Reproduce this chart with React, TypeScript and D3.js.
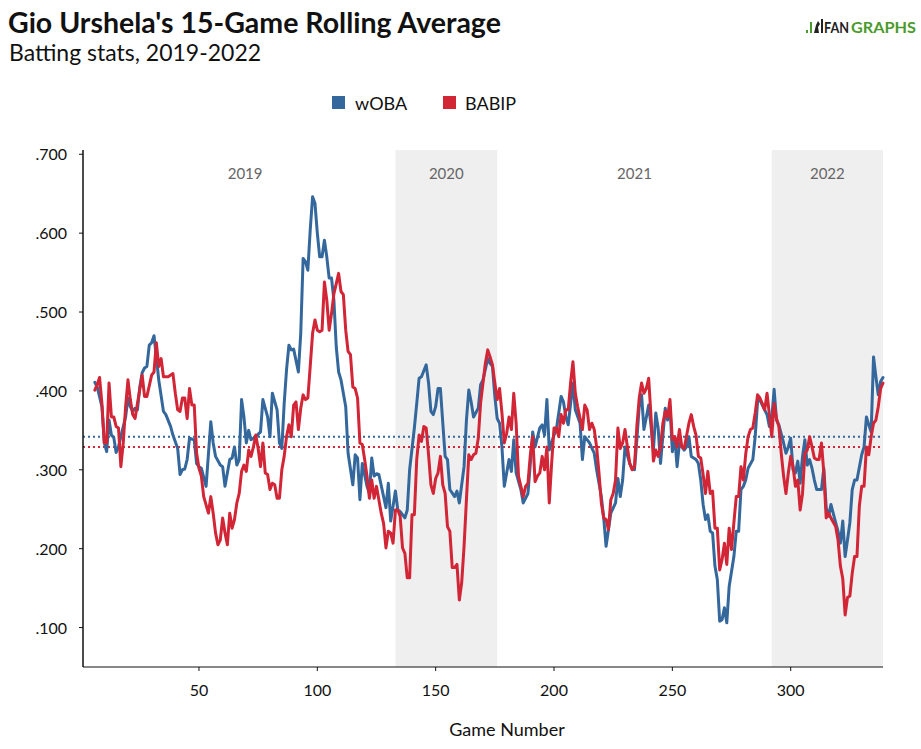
import React from 'react';
import * as d3 from 'd3';

const wobaGames = [6, 7, 9, 10, 11, 12, 13, 14, 15, 16, 17, 19, 20, 21, 22, 23, 24, 25, 26, 27, 28, 29, 30, 31, 32, 33, 35, 36, 38, 39, 41, 42, 43, 44, 45, 46, 48, 49, 50, 51, 53, 55, 56, 57, 59, 60, 61, 63, 64, 65, 66, 67, 68, 69, 70, 71, 72, 74, 76, 77, 79, 80, 81, 83, 84, 85, 86, 87, 88, 89, 90, 92, 93, 94, 95, 96, 97, 98, 99, 100, 101, 102, 103, 104, 105, 106, 107, 108, 109, 110, 112, 113, 115, 116, 117, 118, 119, 121, 122, 123, 124, 125, 126, 128, 129, 130, 131, 133, 134, 135, 137, 138, 139, 141, 142, 143, 144, 146, 147, 148, 149, 150, 151, 152, 154, 155, 156, 158, 159, 160, 162, 163, 164, 165, 166, 168, 169, 170, 172, 173, 174, 175, 176, 177, 178, 179, 181, 182, 183, 184, 186, 187, 189, 190, 191, 192, 194, 195, 196, 197, 198, 200, 201, 203, 204, 205, 206, 208, 209, 211, 212, 213, 215, 217, 218, 220, 221, 222, 224, 226, 227, 228, 229, 230, 232, 233, 234, 235, 236, 237, 238, 240, 241, 242, 243, 244, 245, 247, 248, 249, 250, 251, 252, 253, 255, 256, 257, 258, 260, 261, 262, 263, 264, 265, 266, 267, 268, 269, 270, 271, 272, 273, 274, 276, 277, 278, 279, 280, 281, 282, 284, 285, 286, 287, 288, 290, 291, 292, 293, 294, 295, 297, 298, 299, 300, 301, 302, 303, 304, 305, 306, 307, 308, 309, 310, 311, 313, 314, 315, 316, 317, 319, 320, 321, 322, 323, 324, 325, 326, 327, 328, 330, 331, 332, 333, 334, 335, 336, 337, 338, 339];
const wobaValues = [0.411, 0.405, 0.380, 0.334, 0.323, 0.363, 0.344, 0.341, 0.322, 0.329, 0.342, 0.367, 0.391, 0.380, 0.374, 0.378, 0.376, 0.405, 0.423, 0.429, 0.431, 0.458, 0.461, 0.470, 0.443, 0.414, 0.374, 0.370, 0.355, 0.344, 0.327, 0.294, 0.300, 0.301, 0.313, 0.340, 0.338, 0.308, 0.304, 0.302, 0.279, 0.361, 0.334, 0.317, 0.306, 0.304, 0.279, 0.313, 0.315, 0.329, 0.306, 0.313, 0.389, 0.367, 0.334, 0.350, 0.338, 0.342, 0.348, 0.389, 0.367, 0.342, 0.397, 0.376, 0.334, 0.327, 0.384, 0.427, 0.458, 0.452, 0.453, 0.424, 0.473, 0.568, 0.564, 0.553, 0.604, 0.646, 0.638, 0.600, 0.570, 0.570, 0.591, 0.570, 0.543, 0.543, 0.515, 0.456, 0.424, 0.414, 0.380, 0.321, 0.281, 0.319, 0.315, 0.262, 0.308, 0.279, 0.270, 0.315, 0.292, 0.295, 0.294, 0.266, 0.252, 0.283, 0.235, 0.273, 0.249, 0.247, 0.239, 0.249, 0.300, 0.353, 0.384, 0.416, 0.418, 0.433, 0.410, 0.374, 0.370, 0.380, 0.403, 0.403, 0.317, 0.313, 0.275, 0.266, 0.273, 0.258, 0.304, 0.363, 0.401, 0.386, 0.367, 0.378, 0.408, 0.414, 0.441, 0.435, 0.431, 0.393, 0.365, 0.359, 0.329, 0.279, 0.313, 0.298, 0.338, 0.296, 0.275, 0.258, 0.270, 0.308, 0.348, 0.329, 0.353, 0.357, 0.344, 0.389, 0.325, 0.344, 0.351, 0.393, 0.386, 0.367, 0.357, 0.410, 0.376, 0.359, 0.313, 0.342, 0.334, 0.321, 0.300, 0.266, 0.239, 0.203, 0.245, 0.258, 0.289, 0.266, 0.287, 0.329, 0.308, 0.302, 0.300, 0.338, 0.380, 0.395, 0.351, 0.382, 0.355, 0.325, 0.372, 0.353, 0.308, 0.378, 0.363, 0.380, 0.323, 0.342, 0.304, 0.334, 0.325, 0.329, 0.342, 0.317, 0.313, 0.308, 0.287, 0.256, 0.237, 0.243, 0.222, 0.220, 0.178, 0.161, 0.108, 0.110, 0.125, 0.106, 0.152, 0.190, 0.222, 0.222, 0.275, 0.279, 0.287, 0.302, 0.313, 0.342, 0.386, 0.389, 0.382, 0.370, 0.355, 0.365, 0.402, 0.363, 0.357, 0.334, 0.321, 0.329, 0.340, 0.300, 0.296, 0.311, 0.283, 0.317, 0.338, 0.306, 0.313, 0.302, 0.287, 0.275, 0.275, 0.302, 0.252, 0.241, 0.256, 0.233, 0.222, 0.207, 0.235, 0.190, 0.211, 0.233, 0.275, 0.287, 0.287, 0.319, 0.329, 0.367, 0.357, 0.348, 0.443, 0.418, 0.395, 0.412, 0.417];

const babipGames = [6, 7, 8, 9, 10, 11, 12, 13, 14, 15, 16, 17, 18, 19, 20, 21, 22, 23, 24, 26, 27, 28, 30, 31, 32, 33, 34, 35, 37, 39, 40, 41, 42, 43, 44, 45, 46, 47, 48, 49, 50, 51, 52, 54, 55, 56, 57, 58, 59, 60, 61, 62, 63, 64, 65, 66, 67, 68, 69, 70, 71, 72, 73, 74, 75, 76, 77, 78, 79, 80, 81, 82, 83, 84, 85, 86, 87, 88, 89, 90, 91, 92, 93, 94, 95, 96, 97, 98, 99, 100, 101, 102, 103, 104, 105, 106, 107, 109, 110, 111, 112, 113, 114, 115, 116, 117, 118, 119, 120, 121, 122, 123, 124, 125, 126, 127, 128, 129, 130, 131, 132, 133, 134, 135, 136, 137, 138, 139, 140, 141, 142, 143, 144, 145, 146, 147, 148, 149, 150, 151, 152, 153, 154, 155, 156, 157, 158, 159, 160, 161, 162, 163, 164, 165, 166, 167, 168, 169, 171, 172, 173, 174, 175, 176, 177, 178, 179, 180, 181, 182, 183, 184, 185, 186, 187, 188, 189, 190, 191, 192, 193, 194, 195, 196, 197, 198, 199, 200, 201, 202, 203, 204, 205, 206, 207, 208, 209, 210, 212, 213, 214, 215, 216, 217, 218, 219, 220, 221, 222, 223, 224, 225, 226, 227, 228, 229, 230, 231, 232, 233, 234, 235, 236, 237, 238, 239, 240, 241, 242, 243, 244, 245, 246, 247, 248, 249, 250, 251, 252, 253, 254, 255, 257, 258, 259, 260, 261, 262, 263, 264, 265, 266, 267, 268, 269, 270, 271, 272, 273, 274, 275, 276, 277, 278, 279, 280, 281, 282, 283, 284, 285, 286, 287, 288, 289, 290, 291, 292, 293, 294, 295, 296, 297, 298, 299, 300, 301, 302, 303, 304, 305, 306, 307, 308, 309, 310, 311, 312, 313, 314, 315, 316, 317, 319, 320, 321, 322, 323, 324, 325, 326, 327, 328, 329, 330, 331, 332, 333, 334, 335, 336, 337, 338, 339];
const babipValues = [0.401, 0.408, 0.417, 0.384, 0.334, 0.334, 0.410, 0.367, 0.367, 0.355, 0.353, 0.304, 0.334, 0.380, 0.414, 0.389, 0.370, 0.365, 0.384, 0.420, 0.393, 0.393, 0.420, 0.424, 0.461, 0.431, 0.441, 0.418, 0.418, 0.422, 0.397, 0.376, 0.374, 0.391, 0.391, 0.365, 0.403, 0.382, 0.382, 0.321, 0.302, 0.292, 0.266, 0.245, 0.266, 0.245, 0.220, 0.205, 0.211, 0.239, 0.220, 0.205, 0.245, 0.226, 0.237, 0.258, 0.270, 0.298, 0.306, 0.298, 0.325, 0.317, 0.329, 0.344, 0.327, 0.304, 0.334, 0.296, 0.294, 0.275, 0.283, 0.281, 0.264, 0.264, 0.300, 0.317, 0.342, 0.357, 0.342, 0.382, 0.386, 0.351, 0.378, 0.395, 0.389, 0.391, 0.431, 0.473, 0.490, 0.477, 0.475, 0.477, 0.538, 0.515, 0.477, 0.498, 0.523, 0.549, 0.526, 0.522, 0.477, 0.450, 0.446, 0.405, 0.403, 0.391, 0.334, 0.332, 0.313, 0.292, 0.264, 0.287, 0.264, 0.279, 0.262, 0.245, 0.232, 0.201, 0.222, 0.220, 0.207, 0.249, 0.249, 0.241, 0.201, 0.194, 0.163, 0.163, 0.243, 0.243, 0.313, 0.344, 0.336, 0.355, 0.353, 0.319, 0.281, 0.270, 0.289, 0.296, 0.317, 0.281, 0.270, 0.228, 0.222, 0.176, 0.176, 0.180, 0.135, 0.157, 0.203, 0.262, 0.319, 0.313, 0.319, 0.321, 0.340, 0.385, 0.435, 0.452, 0.443, 0.433, 0.410, 0.389, 0.403, 0.372, 0.334, 0.346, 0.367, 0.351, 0.397, 0.359, 0.292, 0.279, 0.266, 0.279, 0.283, 0.319, 0.342, 0.285, 0.292, 0.296, 0.317, 0.300, 0.329, 0.258, 0.308, 0.353, 0.353, 0.342, 0.370, 0.359, 0.376, 0.376, 0.410, 0.437, 0.397, 0.380, 0.351, 0.382, 0.376, 0.351, 0.359, 0.351, 0.329, 0.296, 0.258, 0.239, 0.237, 0.224, 0.262, 0.270, 0.287, 0.353, 0.327, 0.334, 0.351, 0.329, 0.308, 0.300, 0.304, 0.355, 0.391, 0.410, 0.397, 0.403, 0.416, 0.367, 0.311, 0.325, 0.317, 0.329, 0.359, 0.374, 0.367, 0.389, 0.338, 0.342, 0.329, 0.351, 0.329, 0.327, 0.359, 0.370, 0.355, 0.344, 0.317, 0.315, 0.294, 0.270, 0.298, 0.270, 0.273, 0.226, 0.226, 0.173, 0.186, 0.207, 0.180, 0.226, 0.199, 0.233, 0.266, 0.266, 0.304, 0.287, 0.320, 0.342, 0.351, 0.353, 0.372, 0.395, 0.391, 0.384, 0.376, 0.397, 0.370, 0.342, 0.384, 0.365, 0.355, 0.321, 0.292, 0.270, 0.296, 0.317, 0.304, 0.279, 0.287, 0.249, 0.270, 0.321, 0.325, 0.342, 0.329, 0.315, 0.313, 0.313, 0.334, 0.296, 0.239, 0.245, 0.239, 0.228, 0.211, 0.178, 0.162, 0.116, 0.138, 0.140, 0.169, 0.190, 0.190, 0.254, 0.279, 0.279, 0.329, 0.319, 0.342, 0.359, 0.363, 0.380, 0.403, 0.410];

const wobaAvg = 0.342;
const babipAvg = 0.329;

const seasons = ['2019', '2020', '2021', '2022'];
const seasonStarts = [6, 133, 176, 292];
const seasonEnds = [133, 176, 292, 339];
const seasonShaded = [false, true, false, true];

const yTicks = [0.1, 0.2, 0.3, 0.4, 0.5, 0.6, 0.7];
const xTicks = [50, 100, 150, 200, 250, 300];

const W = 921;
const H = 749;
const BLUE = '#34689c';
const RED = '#d22536';
const FONT = 'Lato, "Open Sans", sans-serif';

export default function App() {
  const left = 83;
  const right = 883;
  const top = 150;
  const bottom = 667;

  const x = d3.scaleLinear().domain([1, 339]).range([left, right]);
  const y = d3.scaleLinear().domain([0.05, 0.7054]).range([bottom, top]);

  const line = d3
    .line<[number, number]>()
    .x((d) => x(d[0]))
    .y((d) => y(d[1]));

  const wobaPts = wobaGames.map((g, i) => [g, wobaValues[i]] as [number, number]);
  const babipPts = babipGames.map((g, i) => [g, babipValues[i]] as [number, number]);
  const fmt = (v: number) => d3.format('.3f')(v).replace(/^0/, '');

  return (
    <div style={{ position: 'absolute', left: 0, top: 0 }}>
      <svg width={W} height={H} style={{ display: 'block', background: '#fff' }} fontFamily={FONT}>
        {/* title */}
        <text x={8} y={33} fontSize={28.5} fontWeight={700} fill="#111">
          Gio Urshela's 15-Game Rolling Average
        </text>
        <text x={9} y={61} fontSize={23} fill="#111">
          Batting stats, 2019-2022
        </text>

        {/* logo */}
        <g transform="translate(806,18)">
          <rect x={0} y={12} width={2} height={3} fill="#4b9a2c" />
          <rect x={4} y={4} width={2} height={11} fill="#4b9a2c" />
          <path d="M8,15 L10,7 L12,3 L14,6 L12,9 L13,15 Z" fill="#222" />
          <rect x={15} y={1} width={2} height={14} fill="#222" />
          <text x={18} y={15} fontSize={15} fontWeight={700} fill="#222" textLength={25} lengthAdjust="spacingAndGlyphs">
            FAN
          </text>
          <text x={45} y={15} fontSize={15} fontWeight={700} fill="#4b9a2c" textLength={65} lengthAdjust="spacingAndGlyphs">
            GRAPHS
          </text>
        </g>

        {/* legend */}
        <rect x={332} y={96} width={13} height={13} fill={BLUE} />
        <text x={355} y={110} fontSize={18} fill="#111">
          wOBA
        </text>
        <rect x={443} y={96} width={13} height={13} fill={RED} />
        <text x={465} y={110} fontSize={18} fill="#111">
          BABIP
        </text>

        {/* season bands */}
        {seasons.map((s, i) => (
          <g key={s}>
            {seasonShaded[i] && (
              <rect
                x={x(seasonStarts[i])}
                y={top}
                width={x(seasonEnds[i]) - x(seasonStarts[i])}
                height={bottom - top}
                fill="#efefef"
              />
            )}
            <text
              x={(x(seasonStarts[i]) + x(seasonEnds[i])) / 2}
              y={179}
              textAnchor="middle"
              fontSize={15}
              fill="#666"
            >
              {s}
            </text>
          </g>
        ))}

        {/* averages */}
        <line x1={left} x2={right} y1={y(wobaAvg)} y2={y(wobaAvg)} stroke={BLUE} strokeWidth={2} strokeDasharray="2,3" />
        <line x1={left} x2={right} y1={y(babipAvg)} y2={y(babipAvg)} stroke={RED} strokeWidth={2} strokeDasharray="2,3" />

        {/* series */}
        <path d={line(wobaPts) || ''} fill="none" stroke={BLUE} strokeWidth={3} strokeLinejoin="round" strokeLinecap="round" />
        <path d={line(babipPts) || ''} fill="none" stroke={RED} strokeWidth={3} strokeLinejoin="round" strokeLinecap="round" />

        {/* y axis */}
        <line x1={left} x2={left} y1={top} y2={bottom} stroke="#111" strokeWidth={1.5} />
        {yTicks.map((t) => (
          <g key={t}>
            <line x1={left - 4} x2={left} y1={y(t)} y2={y(t)} stroke="#111" />
            <text x={67} y={y(t) + 6} textAnchor="end" fontSize={16} fill="#111">
              {fmt(t)}
            </text>
          </g>
        ))}

        {/* x axis */}
        <line x1={left} x2={right} y1={bottom} y2={bottom} stroke="#111" strokeWidth={1} />
        {xTicks.map((t) => (
          <g key={t}>
            <line x1={x(t)} x2={x(t)} y1={bottom} y2={bottom + 4} stroke="#111" />
            <text x={x(t)} y={696} textAnchor="middle" fontSize={16} fill="#111">
              {t}
            </text>
          </g>
        ))}
        <text x={507} y={736} textAnchor="middle" fontSize={18} fill="#111">
          Game Number
        </text>
      </svg>
    </div>
  );
}
